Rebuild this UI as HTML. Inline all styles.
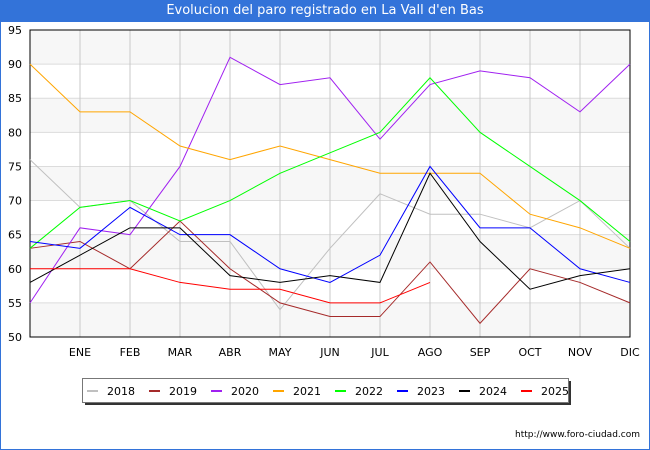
<!DOCTYPE html>
<html><head><meta charset="utf-8"><style>
body{margin:0;width:650px;height:450px;overflow:hidden;background:#fff;font-family:"DejaVu Sans","Liberation Sans",sans-serif;}
#frame{position:absolute;left:0;top:0;width:648px;height:448px;border:1px solid #3373d9;}
#title{position:absolute;left:0;top:0;width:650px;height:22px;background:#3373d9;color:#fff;font-size:13px;line-height:22px;text-align:center;}
</style></head><body>
<div id="frame"></div>
<div id="title">Evolucion del paro registrado en La Vall d'en Bas</div>
<svg id="chart" width="650" height="450" style="position:absolute;left:0;top:0"></svg>
<script>
const months=["","ENE","FEB","MAR","ABR","MAY","JUN","JUL","AGO","SEP","OCT","NOV","DIC"];
const yTicks=[50,55,60,65,70,75,80,85,90,95];
const years=["2018","2019","2020","2021","2022","2023","2024","2025"];
const colors=["#c0c0c0","#a52a2a","#a020f0","#ffa500","#00ff00","#0000ff","#000000","#ff0000"];
const s2018=[76,69,70,64,64,54,63,71,68,68,66,70,63];
const s2019=[63,64,60,67,60,55,53,53,61,52,60,58,55];
const s2020=[55,66,65,75,91,87,88,79,87,89,88,83,90];
const s2021=[90,83,83,78,76,78,76,74,74,74,68,66,63];
const s2022=[63,69,70,67,70,74,77,80,88,80,75,70,64];
const s2023=[64,63,69,65,65,60,58,62,75,66,66,60,58];
const s2024=[58,62,66,66,59,58,59,58,74,64,57,59,60];
const s2025=[60,60,60,58,57,57,55,55,58];
const series=[s2018,s2019,s2020,s2021,s2022,s2023,s2024,s2025];

const L=30,R=630,T=30,B=337,NS="http://www.w3.org/2000/svg";
const x=i=>L+i*(R-L)/(months.length-1);
const y=v=>B-(v-50)*(B-T)/45;
const svg=document.getElementById('chart');
function el(t,a,p){const e=document.createElementNS(NS,t);for(const k in a)e.setAttribute(k,a[k]);(p||svg).appendChild(e);return e;}
// bands
for(let i=0;i<yTicks.length-1;i++){
  if(i%2===0){const r=el('rect',{x:L,y:y(yTicks[i+1]),width:R-L,height:y(yTicks[i])-y(yTicks[i+1]),fill:'#f7f7f7'});
  
  }
}
yTicks.forEach(v=>{
  const g=el('line',{x1:L,x2:R,y1:y(v),y2:y(v),stroke:'#dcdcdc','stroke-width':1});
  
  
  const t=el('text',{x:L-8,y:y(v)+4,'text-anchor':'end','font-size':11,fill:'#000'});
  t.textContent=v;
  
  
});
months.forEach((m,i)=>{
  const g=el('line',{x1:x(i),x2:x(i),y1:T,y2:B,stroke:'#c8c8c8','stroke-width':1});
  
  
  if(m){const t=el('text',{x:x(i),y:B+19,'text-anchor':'middle','font-size':11,fill:'#000'});
  t.textContent=m;
  
  }
});
const ax=el('rect',{x:L,y:T,width:R-L,height:B-T,fill:'none',stroke:'#000','stroke-width':1});


series.forEach((s,k)=>{
  const p=el('polyline',{points:s.map((v,i)=>x(i)+','+y(v)).join(' '),fill:'none',stroke:colors[k],'stroke-width':1});
  
  
});
// legend
const sh=el('rect',{x:85,y:381,width:486,height:24,fill:'#333'});


const lg=el('rect',{x:82.5,y:378.5,width:486,height:24,fill:'#fff',stroke:'#777'});


years.forEach((yr,k)=>{
  const bx=87+k*62;
  const sw=el('line',{x1:bx,x2:bx+11,y1:391,y2:391,stroke:colors[k],'stroke-width':2});
  
  
  const t=el('text',{x:bx+20,y:395,'font-size':11,fill:'#000'});
  t.textContent=yr;
  
  
});
const u=el('text',{x:640,y:437,'text-anchor':'end','font-size':9,fill:'#000'});
u.textContent='http://www.foro-ciudad.com';


</script>
</body></html>
